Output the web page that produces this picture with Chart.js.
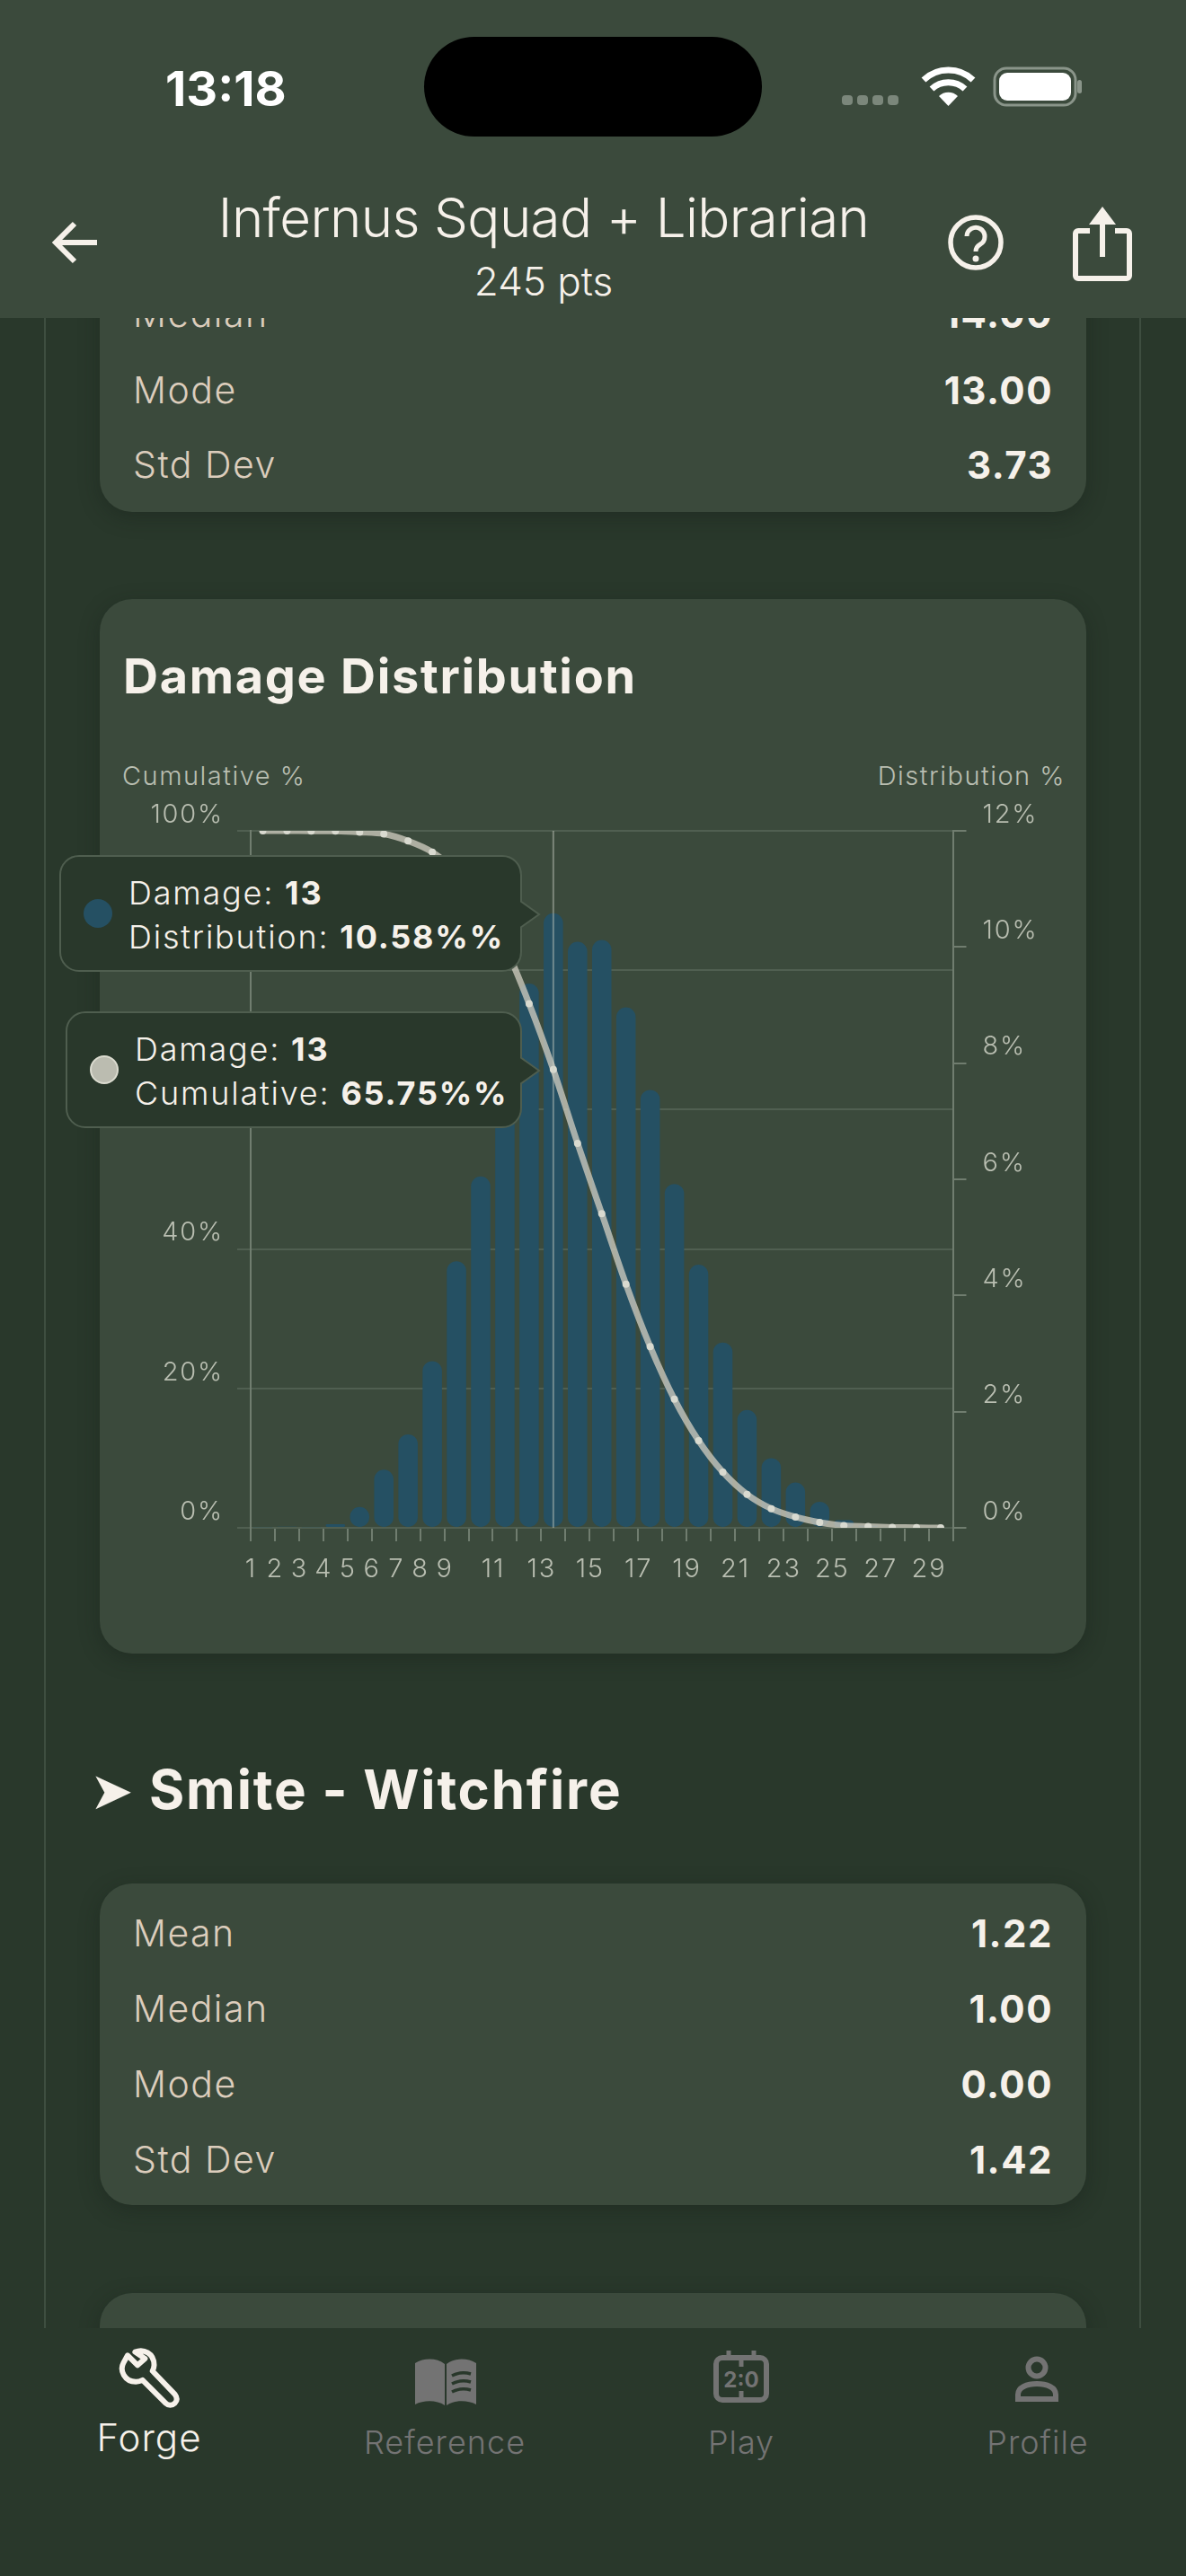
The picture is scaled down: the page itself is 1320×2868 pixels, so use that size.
<!DOCTYPE html>
<html>
<head>
<meta charset="utf-8">
<title>Damage Distribution</title>
<script src="https://cdn.jsdelivr.net/npm/chart.js@4"></script>
<style>
  html, body { margin: 0; padding: 0; background: #29382b; }
  #stage { position: relative; width: 1320px; height: 2868px; overflow: hidden; background: #29382b; font-family: Inter, "Noto Sans", sans-serif; color: #f6f1ea; }
  .box { position: absolute; }
  .t { position: absolute; line-height: 1; white-space: nowrap; }
  .card { position: absolute; left: 111px; width: 1098px; background: #3b4a3c; border-radius: 36px; box-shadow: 0 6px 22px rgba(20,30,22,.35); }
  .lab { left: 148px; font-size: 41px; color: #dccdbc; font-weight: 300; letter-spacing: 1.5px; }
  .val { right: 148px; font-size: 42px; font-weight: 700; color: #f6f1ea; letter-spacing: 1.5px; }
  .nav { font-size: 36px; color: #737373; transform: translateX(-50%); font-weight: 300; letter-spacing: 1px; }
  .tip { position: absolute; background: #29382b; border: 2px solid #4f5e4f; border-radius: 22px; box-sizing: border-box; height: 130px; font-size: 36px; font-weight: 300; letter-spacing: 1.8px; line-height: 49px; }
  .tip b { font-weight: 700; }
  .tip .txt { position: absolute; top: 16px; white-space: nowrap; }
  .tip .dot { position: absolute; width: 32px; height: 32px; border-radius: 50%; top: 47px; box-sizing: border-box; }
  .tip svg { position: absolute; left: 511px; top: 47px; }
</style>
</head>
<body>
<div id="stage">
  <div class="box" style="left:49px;top:354px;width:2px;height:2238px;background:#3e4e40"></div>
  <div class="box" style="left:1268px;top:354px;width:2px;height:2238px;background:#3e4e40"></div>

  <!-- stats card cut off by the header -->
  <div class="card" style="top:200px;height:370px"></div>
  <div class="t lab" style="top:329px">Median</div><div class="t val" style="top:329px">14.00</div>
  <div class="t lab" style="top:414px">Mode</div><div class="t val" style="top:414px">13.00</div>
  <div class="t lab" style="top:497px">Std Dev</div><div class="t val" style="top:497px">3.73</div>

  <!-- chart card -->
  <div class="card" style="top:667px;height:1174px"></div>
  <div class="t" style="left:137px;top:726px;font-size:54px;font-weight:700;letter-spacing:1.7px">Damage Distribution</div>
  <div class="t" style="left:136px;top:849px;font-size:29px;font-weight:300;color:#b9beb1;letter-spacing:1.5px">Cumulative %</div>
  <div class="t" style="right:134px;top:849px;font-size:29px;font-weight:300;color:#b9beb1;letter-spacing:1.5px">Distribution %</div>
  <canvas id="distChart" class="box" style="left:111px;top:880px" width="1098" height="900"></canvas>
  <div class="tip" id="tipDist" style="left:66px;width:515px">
    <div class="dot" style="left:25px;background:#255063"></div>
    <div class="txt" style="left:75px" id="tipDistText"></div>
    <svg width="24" height="34" viewBox="0 0 24 34"><polygon points="0,2 21,17 0,32" fill="#29382b"/><polyline points="0,2 21,17 0,32" fill="none" stroke="#4f5e4f" stroke-width="2"/></svg>
  </div>
  <div class="tip" id="tipCum" style="left:73px;width:508px">
    <div class="dot" style="left:25px;background:#bbbcb0;border:2px solid #dcdcd0"></div>
    <div class="txt" style="left:75px" id="tipCumText"></div>
    <svg style="left:504px" width="24" height="34" viewBox="0 0 24 34"><polygon points="0,2 21,17 0,32" fill="#29382b"/><polyline points="0,2 21,17 0,32" fill="none" stroke="#4f5e4f" stroke-width="2"/></svg>
  </div>

  <!-- section -->
  <div class="t" style="left:100px;top:1965px;font-size:58px;font-family:'DejaVu Sans'">➤</div>
  <div class="t" style="left:166px;top:1962px;font-size:60px;font-weight:700;letter-spacing:1.8px">Smite - Witchfire</div>
  <div class="card" style="top:2097px;height:358px"></div>
  <div class="t lab" style="top:2132px">Mean</div><div class="t val" style="top:2132px">1.22</div>
  <div class="t lab" style="top:2216px">Median</div><div class="t val" style="top:2216px">1.00</div>
  <div class="t lab" style="top:2300px">Mode</div><div class="t val" style="top:2300px">0.00</div>
  <div class="t lab" style="top:2384px">Std Dev</div><div class="t val" style="top:2384px">1.42</div>
  <div class="card" style="top:2553px;height:200px"></div>

  <!-- header -->
  <div class="box" style="left:0;top:0;width:1320px;height:354px;background:#3b4a3c"></div>
  <div class="t" style="left:184px;top:72px;font-size:54px;font-weight:700;color:#fff">13:18</div>
  <div class="box" style="left:472px;top:41px;width:376px;height:111px;background:#000;border-radius:56px"></div>
  <svg class="box" style="left:930px;top:70px" width="280" height="54" viewBox="0 0 280 54">
    <g fill="#7b877b"><rect x="7" y="36" width="12" height="11" rx="4"/><rect x="24" y="36" width="12" height="11" rx="4"/><rect x="41" y="36" width="12" height="11" rx="4"/><rect x="58" y="36" width="12" height="11" rx="4"/></g>
    <g fill="none" stroke="#fff" stroke-width="7"><path d="M98 19a40 40 0 0 1 55 0"/><path d="M107 29a27 27 0 0 1 37 0"/></g>
    <path d="M115 37a15 15 0 0 1 21 0l-10.500 11z" fill="#fff"/>
    <rect x="177" y="6" width="90" height="41" rx="13" fill="none" stroke="#8a958a" stroke-width="3"/>
    <rect x="182" y="11" width="80" height="31" rx="9" fill="#fff"/>
    <rect x="269" y="19" width="5" height="15" rx="2.500" fill="#8a958a"/>
  </svg>
  <div class="t" style="left:0;width:1210px;text-align:center;top:212px;font-size:60px;font-weight:300;letter-spacing:-.6px">Infernus Squad + Librarian</div>
  <div class="t" style="left:0;width:1210px;text-align:center;top:291px;font-size:44px;font-weight:300">245 pts</div>
  <svg class="box" style="left:56px;top:243px" width="56" height="54" viewBox="0 0 56 54"><path d="M52 27H8M27 6 6 27l21 21" fill="none" stroke="#f6f1ea" stroke-width="6"/></svg>
  <svg class="box" style="left:1052px;top:236px" width="68" height="68" viewBox="0 0 68 68"><circle cx="34" cy="34" r="28" fill="none" stroke="#f6f1ea" stroke-width="5.500"/><path d="M24 27a10 10 0 1 1 15 9c-3.500 2-5 4-5 8" fill="none" stroke="#f6f1ea" stroke-width="5"/><circle cx="34" cy="52" r="3.500" fill="#f6f1ea"/></svg>
  <svg class="box" style="left:1193px;top:226px" width="68" height="90" viewBox="0 0 68 90"><path d="M20 31H7a3 3 0 0 0-3 3v47a3 3 0 0 0 3 3h54a3 3 0 0 0 3-3V34a3 3 0 0 0-3-3H48" fill="none" stroke="#f6f1ea" stroke-width="6"/><path d="M34 60V8" stroke="#f6f1ea" stroke-width="6"/><path d="M34 4 19 24h30z" fill="#f6f1ea"/></svg>

  <!-- bottom nav -->
  <div class="box" style="left:0;top:2592px;width:1320px;height:276px;background:#29382b"></div>
  <svg class="box" style="left:131px;top:2614px" width="70" height="70" viewBox="0 0 76 74"><path d="M12 8 24 20 33 12 21 4C31 0 44 5 44 20c0 3-1 5-2 7l27 28c3 4 3 8 0 11s-8 3-11 0L30 38c-2 1-5 2-8 2C8 40 2 26 7 17z" fill="none" stroke="#f6f1ea" stroke-width="6.500" stroke-linejoin="round"/></svg>
  <svg class="box" style="left:460px;top:2625px" width="72" height="54" viewBox="0 0 72 54"><path d="M2 6c10-6 24-6 33 1v46c-9-6-23-6-33-1z" fill="#737373"/><path d="M37 7c9-7 23-7 33-1v46c-10-5-24-5-33 1z" fill="#737373"/><g fill="none" stroke="#29382b" stroke-width="3.500"><path d="M43 20c6-3 14-4 21-2M43 29c6-3 14-4 21-2M43 38c6-3 14-4 21-2"/></g></svg>
  <svg class="box" style="left:793px;top:2617px" width="64" height="58" viewBox="0 0 64 58"><rect x="4" y="8" width="56" height="47" rx="7" fill="none" stroke="#737373" stroke-width="6"/><path d="M18 0v10M46 0v10M32 10v8M32 45v8" stroke="#737373" stroke-width="5"/><text x="32" y="41" text-anchor="middle" font-family="Inter" font-weight="700" font-size="24" fill="#737373">2:0</text></svg>
  <svg class="box" style="left:1128px;top:2623px" width="52" height="52" viewBox="0 0 52 52"><circle cx="26" cy="13" r="9.500" fill="none" stroke="#737373" stroke-width="6"/><path d="M5 48v-5c0-8 10-12 21-12s21 4 21 12v5z" fill="none" stroke="#737373" stroke-width="6"/></svg>
  <div class="t" style="left:166px;top:2693px;font-size:42px;font-weight:300;letter-spacing:1px;transform:translateX(-50%)">Forge</div>
  <div class="t nav" style="left:495px;top:2701px">Reference</div>
  <div class="t nav" style="left:825px;top:2701px">Play</div>
  <div class="t nav" style="left:1155px;top:2701px">Profile</div>
</div>

<script>
// --- values ---
const damageLabels = ["1","2","3","4","5","6","7","8","9","10","11","12","13","14","15","16","17","18","19","20","21","22","23","24","25","26","27","28","29"];
const tickLabels = ["1","2","3","4","5","6","7","8","9","","11","","13","","15","","17","","19","","21","","23","","25","","27","","29"];
const distribution = [0.01,0.02,0.01,0.06,0.36,1.0,1.61,2.87,4.59,6.05,8.13,9.37,10.58,10.09,10.12,8.96,7.54,5.92,4.53,3.19,2.03,1.2,0.78,0.45,0.13,0.04,0.01,0,0];
const cumulative = [100,100,99.98,99.96,99.8,99.55,98.55,96.94,94.07,89.48,83.43,75.2,65.75,55.17,45.08,34.96,26.0,18.45,12.5,8.0,4.8,2.75,1.55,0.78,0.33,0.2,0.08,0.03,0];
const activeIndex = 12;

const axisColor = "#707d6f";
const gridColor = "#505f51";
const tickFont = { family: "Inter", size: 29, weight: "300" };
const tickColor = "#b9beb1";

// vertical line over the hovered damage value
const crosshair = {
  id: "crosshair",
  beforeDraw(chart) {
    chart.ctx.letterSpacing = "1.8px";
  },
  afterDatasetsDraw(chart) {
    const x = chart.scales.x.getPixelForValue(activeIndex);
    const { top, bottom } = chart.chartArea;
    const ctx = chart.ctx;
    ctx.save();
    ctx.strokeStyle = "rgba(205,208,198,0.45)";
    ctx.lineWidth = 2;
    ctx.beginPath();
    ctx.moveTo(x, top);
    ctx.lineTo(x, bottom);
    ctx.stroke();
    ctx.restore();
  },
};

const distChart = new Chart(document.getElementById("distChart"), {
  data: {
    labels: damageLabels,
    datasets: [
      {
        type: "line",
        label: "Cumulative",
        data: cumulative,
        yAxisID: "y",
        order: 1,
        borderColor: "rgba(205,203,190,0.78)",
        borderWidth: 7,
        tension: 0.3,
        clip: 0,
        pointRadius: 4,
        pointBorderWidth: 0,
        pointBackgroundColor: "#d9dad0",
      },
      {
        type: "bar",
        label: "Distribution",
        data: distribution,
        yAxisID: "y1",
        order: 2,
        backgroundColor: "#255063",
        borderRadius: 11,
        borderSkipped: false,
        barPercentage: 0.8,
        categoryPercentage: 1,
      },
    ],
  },
  options: {
    responsive: false,
    animation: false,
    layout: { padding: { top: 45, bottom: 0, left: 0, right: 0 } },
    plugins: { legend: { display: false }, tooltip: { enabled: false } },
    scales: {
      x: {
        offset: true,
        afterFit: (s) => { s.height = 79; },
        border: { color: gridColor, width: 2 },
        grid: { offset: true, drawOnChartArea: false, tickLength: 15, tickColor: axisColor, lineWidth: 2 },
        ticks: {
          autoSkip: false,
          maxRotation: 0,
          padding: 14,
          labelOffset: -13,
          color: tickColor,
          font: tickFont,
          callback: (v, i) => tickLabels[i],
        },
      },
      y: {
        position: "left",
        min: 0,
        max: 100,
        afterFit: (s) => { s.width = 168; },
        border: { color: axisColor, width: 2 },
        grid: { color: gridColor, lineWidth: 2, tickLength: 15, tickColor: gridColor },
        ticks: {
          stepSize: 20,
          padding: 15,
          labelOffset: -18,
          color: tickColor,
          font: tickFont,
          callback: (v) => v + "%",
        },
      },
      y1: {
        position: "right",
        min: 0,
        max: 12,
        afterFit: (s) => { s.width = 148.5; },
        border: { color: axisColor, width: 2 },
        grid: { drawOnChartArea: false, lineWidth: 2, tickLength: 15, tickColor: axisColor },
        ticks: {
          stepSize: 2,
          padding: 18,
          labelOffset: -18,
          color: tickColor,
          font: tickFont,
          callback: (v) => v + "%",
        },
      },
    },
  },
  plugins: [crosshair],
});

// tooltips sit next to the marks of the active damage value
const canvasTop = 880;
const tipDist = document.getElementById("tipDist");
const tipCum = document.getElementById("tipCum");
document.getElementById("tipDistText").innerHTML = "Damage: <b>" + damageLabels[activeIndex] + "</b><br>Distribution: <b>" + distribution[activeIndex].toFixed(2) + "%%</b>";
document.getElementById("tipCumText").innerHTML = "Damage: <b>" + damageLabels[activeIndex] + "</b><br>Cumulative: <b>" + cumulative[activeIndex].toFixed(2) + "%%</b>";
tipDist.style.top = canvasTop + distChart.scales.y1.getPixelForValue(distribution[activeIndex]) - 65 + "px";
tipCum.style.top = canvasTop + distChart.scales.y.getPixelForValue(cumulative[activeIndex]) - 65 + "px";
</script>
</body>
</html>
